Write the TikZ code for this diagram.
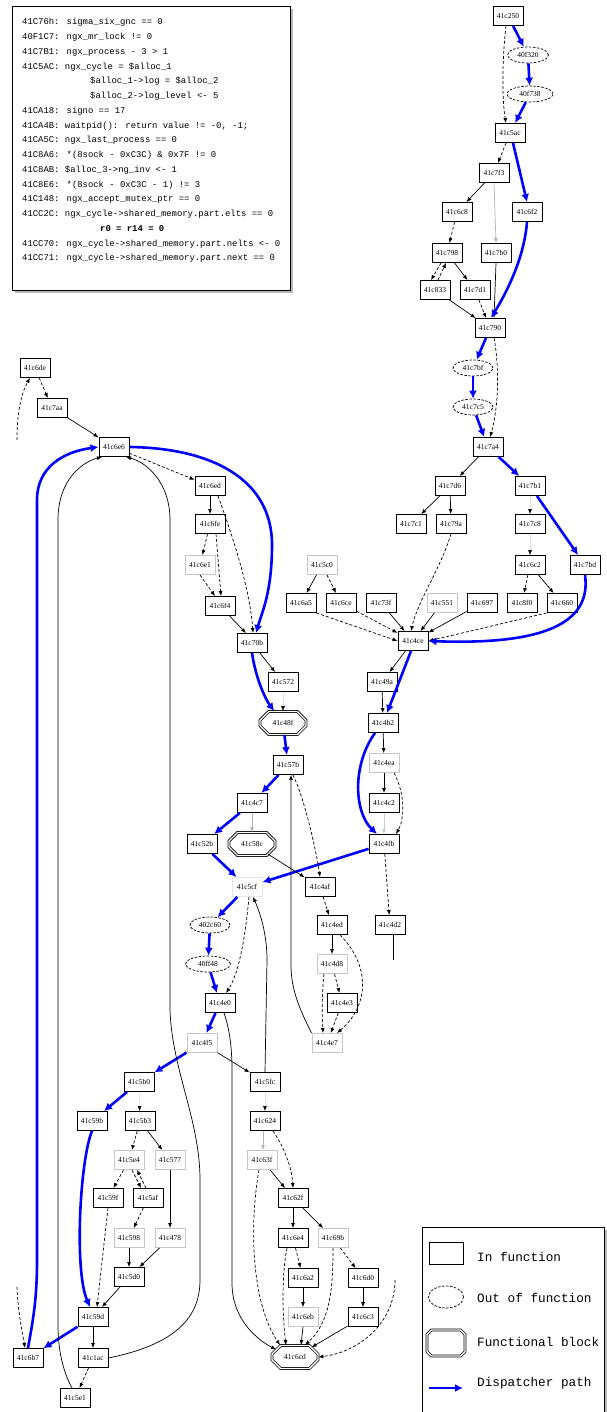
\documentclass[tikz,border=0pt]{standalone}
\usepackage{fontspec}
\newfontfamily\labfnt{Liberation Serif}
\newfontfamily\monofnt{Liberation Mono}
\usetikzlibrary{arrows.meta,shapes.geometric,shapes.misc,calc}
\begin{document}
\begin{tikzpicture}[x=1pt,y=-1pt,
 lab/.style={font=\labfnt\fontsize{7.5}{8}\selectfont},
 box/.style={draw,line width=0.9pt,minimum width=30pt,minimum height=19pt,inner sep=0pt,lab},
 lbox/.style={box,draw=gray!45},
 ell/.style={draw,dash pattern=on 2.5pt off 1.5pt,ellipse,line width=0.7pt,minimum width=40pt,minimum height=16pt,inner sep=0pt,lab},
 oct/.style={chamfered rectangle,chamfered rectangle xsep=6pt,chamfered rectangle ysep=6pt,draw,double,double distance=1.3pt,line width=0.8pt,minimum width=46pt,minimum height=23pt,inner sep=0pt,lab},
 sol/.style={draw,line width=0.7pt,-{Latex[length=5pt,width=4pt]}},
 dsh/.style={sol,dash pattern=on 3pt off 2pt},
 bl/.style={draw=blue,line width=2.6pt,-{Latex[length=8pt,width=8pt]}},
 stb/.style={draw=gray!25,line width=0.6pt,-{Latex[length=5pt,width=4pt,color=black]}},
 plainl/.style={draw,line width=0.7pt},
 mono/.style={font=\monofnt\fontsize{8.9}{10}\selectfont,inner sep=0pt,anchor=base west},
 legt/.style={font=\monofnt\fontsize{12.7}{14}\selectfont,inner sep=0pt,anchor=west},
]
\useasboundingbox (0,0) rectangle (607,1412);
% ---------- text box ----------
\fill[gray!55] (15,9) rectangle (293,293);
\draw[fill=white,line width=0.8pt] (12,6) rectangle (290,290);
\node[mono] (t1) at (22,25) {41C76h: sigma\_six\_gnc == 0};
\node[mono] (t2) at (22,39.75) {40F1C7: ngx\_mr\_lock != 0};
\node[mono] (t3) at (22,54.5) {41C7B1: ngx\_process - 3 > 1};
\node[mono] (t4) at (22,69.25) {41C5AC: ngx\_cycle = \$alloc\_1};
\node[mono] (t5) at (90,84) {\$alloc\_1->log = \$alloc\_2};
\node[mono] (t6) at (90,98.75) {\$alloc\_2->log\_level <- 5};
\node[mono] (t7) at (22,113.5) {41CA18: signo == 17};
\node[mono] (t8) at (22,128.25) {41CA4B: waitpid(): return value != -0, -1;};
\node[mono] (t9) at (22,143) {41CA5C: ngx\_last\_process == 0};
\node[mono] (t10) at (22,157.75) {41C8A6: *(8sock - 0xC3C) \& 0x7F != 0};
\node[mono] (t11) at (22,172.5) {41C8AB: \$alloc\_3->ng\_inv <- 1};
\node[mono] (t12) at (22,187.25) {41C8E6: *(8sock - 0xC3C - 1) != 3};
\node[mono] (t13) at (22,202) {41C148: ngx\_accept\_mutex\_ptr == 0};
\node[mono] (t14) at (22,216.75) {41CC2C: ngx\_cycle->shared\_memory.part.elts == 0};
\node[mono] (t15) at (100,231.5) {\bfseries r0 = r14 = 0};
\node[mono] (t16) at (22,246.25) {41CC70: ngx\_cycle->shared\_memory.part.nelts <- 0};
\node[mono] (t17) at (22,261) {41CC71: ngx\_cycle->shared\_memory.part.next == 0};
% ---------- legend ----------
\fill[gray!55] (425,1230) rectangle (608,1416);
\draw[fill=white,line width=0.8pt] (422,1227) rectangle (604,1416);
\node[box,minimum width=34pt,minimum height=22pt] (lg1) at (446,1253) {};
\node[ell,minimum width=35pt,minimum height=22pt] (lg2) at (446,1297) {};
\node[oct,minimum width=38pt,minimum height=26pt] (lg3) at (446,1343) {\phantom{0}};
\coordinate (la) at (429,1388); \coordinate (lb) at (463,1388);
\draw[bl] (la) -- (lb);
\node[legt] (lt1) at (477,1257) {In function};
\node[legt] (lt2) at (477,1298) {Out of function};
\node[legt] (lt3) at (477,1342) {Functional block};
\node[legt] (lt4) at (477,1383) {Dispatcher path};
% ---------- nodes: top right ----------
\node[box] (A1) at (508,16) {41c250};
\node[ell,minimum width=41pt] (E1) at (528,55) {40f320};
\node[ell,minimum width=46pt] (E2) at (530,94) {40f738};
\node[box] (B1) at (510,133) {41c5ac};
\node[box] (C1) at (494,173) {41c7f3};
\node[box] (C2) at (527,212) {41c6f2};
\node[box] (D1) at (457,212) {41c6c8};
\node[box] (F1) at (447,253) {41c798};
\node[box] (F2) at (496,253) {41c7b0};
\node[box] (G1) at (435,290) {41c833};
\node[box] (G2) at (475,290) {41c7d1};
\node[box] (H1) at (490,328) {41c790};
\node[ell] (E3) at (473,368) {41c7bf};
\node[ell] (E4) at (473,407) {41c7c5};
\node[box] (I1) at (488,447) {41c7a4};
\node[box] (J1) at (450,486) {41c7d6};
\node[box] (J2) at (530,486) {41c7b1};
\node[box] (K1) at (411,524) {41c7c1};
\node[box] (K2) at (451,524) {41c79a};
\node[box] (K3) at (530,524) {41c7c8};
\node[lbox] (L1) at (322,565) {41c5c0};
\node[box] (L2) at (530,565) {41c6c2};
\node[box] (L3) at (585,565) {41c7bd};
\node[box] (M1) at (301,603) {41c6a5};
\node[box] (M2) at (341,603) {41c6ce};
\node[box] (M3) at (381,603) {41c73f};
\node[lbox] (M4) at (442,603) {41c551};
\node[box] (M5) at (482,603) {41c697};
\node[box] (M6) at (522,603) {41c8f0};
\node[box] (M7) at (562,603) {41c660};
\node[box] (N1) at (413,641) {41c4ce};
\node[box] (O1) at (382,682) {41c49a};
\node[box] (P1) at (383,723) {41c4b2};
\node[lbox] (Q1) at (384,763) {41c4ea};
\node[box] (R1) at (384,803) {41c4c2};
\node[box] (S1) at (384,844) {41c4fb};
\node[box] (T1) at (390,925) {41c4d2};
\coordinate (T1e) at (393,960);
% ---------- nodes: left ----------
\node[box] (V1) at (35,368) {41c6de};
\node[box] (V2) at (52,408) {41c7aa};
\coordinate (Vd) at (17,440);
\node[box] (W1) at (114,447) {41c6e6};
\node[box] (X1) at (210,486) {41c6ed};
\node[box] (X2) at (210,524) {41c6fe};
\node[lbox] (X3) at (200,565) {41c6e1};
\node[box] (X4) at (220,606) {41c6f4};
\node[box] (Z1) at (252,643) {41c70b};
\node[box] (Z2) at (283,682) {41c572};
\node[oct] (AA1) at (283,723) {41c48f};
\node[box] (AB1) at (288,765) {41c57b};
\node[box] (AC1) at (252,803) {41c4c7};
\node[box] (AD1) at (202,844) {41c52b};
\node[oct] (AE1) at (252,844) {41c58c};
\node[box] (AF1) at (320,887) {41c4af};
\node[box,draw=gray!20] (U1) at (247,887) {41c5cf};
\node[box] (AG1) at (332,925) {41c4ed};
\node[lbox] (AH1) at (332,964) {41c4d8};
\node[box] (AI1) at (342,1003) {41c4e3};
\node[lbox] (AJ1) at (327,1043) {41c4e7};
\node[ell] (AK1) at (210,925) {402c60};
\node[ell,minimum width=45pt] (AL1) at (208,964) {40ff48};
\node[box] (AM1) at (220,1003) {41c4e0};
\node[lbox] (AN1) at (202,1043) {41c4f5};
\node[box] (AO1) at (139,1082) {41c5b0};
\node[box] (AQ1) at (265,1082) {41c5fc};
\node[box] (AP1) at (92,1121) {41c59b};
\node[box] (AR1) at (140,1121) {41c5b3};
\node[lbox] (AS1) at (129,1160) {41c5e4};
\node[lbox] (AT1) at (170,1160) {41c577};
\node[box] (AU1) at (108,1198) {41c59f};
\node[box] (AV1) at (148,1198) {41c5af};
\node[lbox] (AW1) at (129,1238) {41c598};
\node[lbox] (AX1) at (170,1238) {41c478};
\node[box] (AY1) at (129,1277) {41c5d0};
\node[box] (BA1) at (93,1317) {41c59d};
\node[box] (BB1) at (28,1358) {41c6b7};
\coordinate (BBd) at (17,1287);
\node[box] (BC1) at (93,1358) {41c1ac};
\node[box] (BD1) at (75,1398) {41c5e1};
\node[box] (BE1) at (265,1121) {41c624};
\node[lbox] (BF1) at (262,1160) {41c63f};
\node[box] (BG1) at (293,1198) {41c62f};
\node[box] (BH1) at (293,1238) {41c6e4};
\node[lbox] (BI1) at (333,1238) {41c69b};
\node[box] (BJ1) at (303,1278) {41c6a2};
\node[box] (BK1) at (363,1278) {41c6d0};
\node[lbox] (BL1) at (303,1317) {41c6eb};
\node[box] (BM1) at (363,1317) {41c6c3};
\node[oct] (AZ) at (295,1357) {41c6cd};
\coordinate (AZd) at (395,1280);
% ---------- edges: top right ----------
\draw[dsh] ([xshift=-2pt]A1.south) .. controls (502,60) and (502,100) .. ([xshift=-4pt]B1.north);
\draw[bl] (A1) -- (E1);
\draw[bl] (E1) -- (E2);
\draw[bl] (E2) -- (B1);
\draw[dsh] (B1) -- (C1);
\draw[bl] ([xshift=3pt]B1.south) -- (C2.north);
\draw[sol] (C1) -- (D1);
\draw[sol,draw=gray!60] (C1.south) -- (F2.north);
\draw[dsh] (D1) -- (F1);
\draw[dsh] ([xshift=-6pt]F1.south) -- ([xshift=-4pt]G1.north);
\draw[dsh] ([xshift=3pt]G1.north) -- ([xshift=-1pt]F1.south);
\draw[sol] (F1) -- (G2);
\draw[sol] (G1) -- (H1);
\draw[dsh] (G2) -- (H1);
\draw[sol] (F2.south) -- ([xshift=4pt]H1.north);
\draw[bl] (C2.south) .. controls (524,260) and (505,295) .. ([xshift=1pt]H1.north);
\draw[bl] ([xshift=-4pt]H1.south) -- (E3);
\draw[bl] (E3) -- (E4);
\draw[bl] (E4) -- (I1);
\draw[dsh] ([xshift=4pt]H1.south) .. controls (500,370) and (498,410) .. ([xshift=2pt]I1.north);
\draw[sol] (I1) -- (J1);
\draw[bl] (I1) -- (J2);
\draw[sol] (J1) -- (K1);
\draw[sol] (J1) -- (K2);
\draw[stb] (J2) -- (K3);
\draw[stb] (K3) -- (L2);
\draw[bl] (J2) -- (L3);
\draw[sol] (L1) -- (M1);
\draw[dsh] (L1) -- (M2);
\draw[dsh] (L2) -- (M6);
\draw[sol] (L2) -- (M7);
\draw[dsh] (K2.south) .. controls (440,570) and (418,600) .. ([xshift=-2pt]N1.north);
\draw[dsh] (M1.south east) -- (N1.west);
\draw[dsh] (M2) -- (N1);
\draw[sol] (M3) -- (N1);
\draw[sol] (M4) -- (N1);
\draw[sol] (M5) -- (N1);
\draw[dsh] (M7.south west) -- (N1.east);
\draw[bl] (L3.south) .. controls (592,625) and (540,645) .. (N1.east);
\draw[sol] (N1) -- (O1);
\draw[bl] ([xshift=-2pt]N1.south) -- ([xshift=4pt]P1.north);
\draw[sol] (O1) -- (P1);
\draw[sol] (P1) -- (Q1);
\draw[sol] (Q1) -- (R1);
\draw[sol,draw=gray!40] (R1) -- (S1);
\draw[dsh] ([xshift=10pt]Q1.south) .. controls (406,795) and (404,820) .. ([xshift=12pt]S1.north);
\draw[bl] ([xshift=-8pt]P1.south) .. controls (352,765) and (354,812) .. ([xshift=-7pt]S1.north);
\draw[dsh] (S1) -- (T1);
\draw[plainl] ([xshift=3pt]T1.south) -- (T1e);
\draw[bl] (S1) -- (U1);
% ---------- edges: left ----------
\draw[dsh] (Vd) .. controls (17,410) and (22,392) .. ([xshift=-5pt]V1.south);
\draw[dsh] (V1) -- (V2);
\draw[sol] (V2) -- (W1);
\draw[dsh] (W1) -- (X1);
\draw[bl] (W1.east) .. controls (210,448) and (272,478) .. (272,545) .. controls (272,592) and (262,612) .. ([xshift=4pt]Z1.north);
\draw[sol] (X1) -- (X2);
\draw[dsh] (X2) -- (X3);
\draw[dsh] ([xshift=6pt]X2.south) -- ([xshift=1pt]X4.north);
\draw[dsh] (X3.south) -- ([xshift=-5pt]X4.north);
\draw[dsh] ([xshift=8pt]X1.south) .. controls (234,540) and (250,590) .. ([xshift=1pt]Z1.north);
\draw[sol] (X4) -- ([xshift=-6pt]Z1.north);
\draw[sol] (Z1) -- (Z2);
\draw[bl] (Z1.south) .. controls (256,680) and (266,700) .. (AA1);
\draw[stb] (Z2) -- (AA1);
\draw[bl] (AA1) -- (AB1);
\draw[bl] (AB1) -- (AC1);
\draw[bl] (AC1) -- (AD1);
\draw[sol,draw=gray!60] (AC1) -- (AE1);
\draw[bl] (AD1) -- (U1);
\draw[sol] (AE1) -- (AF1);
\draw[dsh] ([xshift=5pt]AB1.south) .. controls (305,800) and (316,850) .. (AF1.north);
\draw[dsh] (AF1) -- (AG1);
\draw[sol] (AG1) -- (AH1);
\draw[dsh] (AH1) -- (AI1);
\draw[dsh] ([xshift=-8pt]AH1.south) .. controls (322,992) and (322,1012) .. ([xshift=-4pt]AJ1.north);
\draw[dsh] (AI1) -- (AJ1);
\draw[dsh] ([xshift=8pt]AG1.south) .. controls (370,965) and (370,1005) .. ([xshift=10pt]AJ1.north);
\draw[sol] (AJ1.north west) .. controls (300,1010) and (291,990) .. (291,965) -- ([xshift=3pt]AB1.south);
\draw[bl] (U1) -- (AK1);
\draw[bl] (AK1) -- (AL1);
\draw[bl] (AL1) -- (AM1);
\draw[dsh] ([xshift=2pt]U1.south) .. controls (246,930) and (240,972) .. ([xshift=6pt]AM1.north);
\draw[sol] (AQ1.north) -- (267,960) .. controls (267,930) and (258,908) .. ([xshift=6pt]U1.south);
\draw[bl] (AM1) -- (AN1);
\draw[bl] (AN1) -- (AO1);
\draw[sol] (AN1) -- (AQ1);
\draw[sol] ([xshift=4pt]AM1.south) .. controls (230,1030) and (232,1050) .. (232,1070) -- (232,1283) .. controls (232,1320) and (258,1340) .. (AZ.north west);
\draw[bl] (AO1) -- (AP1);
\draw[stb] (AO1) -- (AR1);
\draw[dsh] (AR1) -- (AS1);
\draw[sol] (AR1) -- (AT1);
\draw[dsh] (AS1) -- (AU1);
\draw[dsh] ([xshift=3pt]AS1.south) -- ([xshift=-7pt]AV1.north);
\draw[dsh] ([xshift=-2pt]AV1.north) -- ([xshift=8pt]AS1.south);
\draw[dsh] (AV1) -- (AW1);
\draw[sol] (AT1) -- (AX1);
\draw[sol] (AW1) -- (AY1);
\draw[sol] (AX1) -- (AY1);
\draw[sol] (AY1) -- (BA1);
\draw[dsh] (AU1.south) -- ([xshift=4pt]BA1.north);
\draw[bl] (AP1.south) .. controls (80,1160) and (74,1270) .. ([xshift=-3pt]BA1.north);
\draw[bl] (BA1) -- (BB1);
\draw[sol] (BA1) -- (BC1);
\draw[dsh] (BC1) -- (BD1);
\draw[bl] (BB1.north) .. controls (33,1320) and (37,1300) .. (37,1260) -- (37,500) .. controls (37,468) and (62,452) .. (W1.west);
\draw[dsh] (BBd) .. controls (18,1312) and (22,1330) .. ([xshift=-3pt]BB1.north);
\draw[sol] ([xshift=-3pt]BD1.north) .. controls (65,1375) and (58,1355) .. (58,1325) -- (58,520) .. controls (58,480) and (82,462) .. ([xshift=-12pt]W1.south);
\draw[sol] (BC1.east) .. controls (172,1345) and (200,1320) .. (200,1280) -- (200,1180) .. controls (200,1120) and (172,1070) .. (170,1010) -- (170,520) .. controls (170,482) and (146,462) .. ([xshift=12pt]W1.south);
\draw[stb] (AQ1) -- (BE1);
\draw[sol,draw=gray!60] ([xshift=-2pt]BE1.south) -- ([xshift=1pt]BF1.north);
\draw[dsh] ([xshift=8pt]BE1.south) .. controls (286,1150) and (292,1170) .. (BG1.north);
\draw[sol] (BF1) -- ([xshift=-8pt]BG1.north);
\draw[dsh] ([xshift=-3pt]BF1.south) .. controls (250,1220) and (250,1300) .. ([xshift=-15pt]AZ.north);
\draw[sol] (BG1) -- (BH1);
\draw[sol] (BG1) -- (BI1);
\draw[dsh] (BH1) -- (BJ1);
\draw[dsh] ([xshift=-6pt]BH1.south) .. controls (282,1272) and (282,1312) .. ([xshift=-9pt]AZ.north);
\draw[dsh] (BI1) -- (BK1);
\draw[dsh] (BI1.south) .. controls (333,1290) and (330,1322) .. ([xshift=10pt]AZ.north);
\draw[sol] (BJ1) -- (BL1);
\draw[sol] (BK1) -- (BM1);
\draw[sol] (BL1.south) -- ([xshift=6pt]AZ.north);
\draw[sol] (BM1) -- (AZ);
\draw[dsh] (AZd) .. controls (395,1322) and (360,1352) .. (AZ.east);
\end{tikzpicture}
\end{document}
